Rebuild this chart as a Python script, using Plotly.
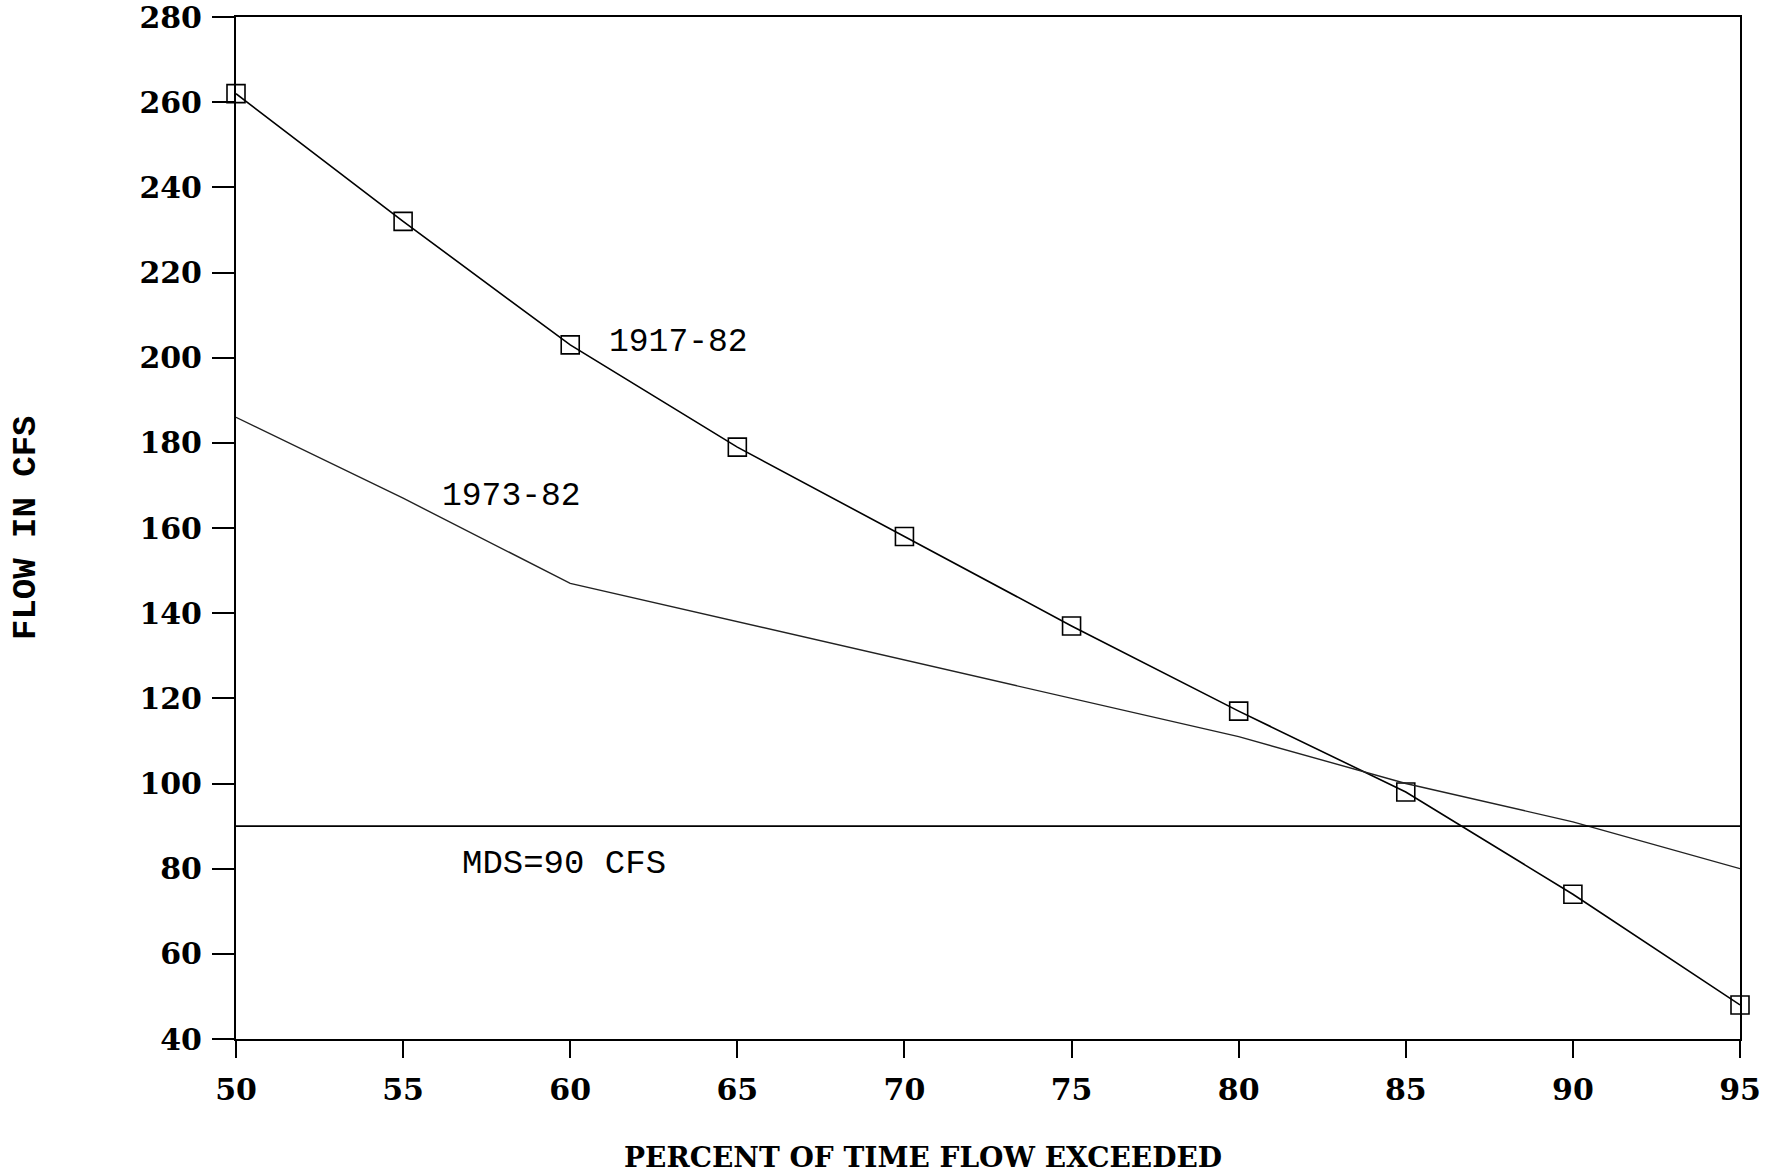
import plotly.graph_objects as go

pct = [50, 55, 60, 65, 70, 75, 80, 85, 90, 95]
flow_1917_82 = [262, 232, 203, 179, 158, 137, 117, 98, 74, 48]
flow_1973_82 = [186, 167, 147, 138, 129, 120, 111, 100, 91, 80]
mds_x = [50, 95]
mds_y = [90, 90]
x_ticks = [50, 55, 60, 65, 70, 75, 80, 85, 90, 95]
y_ticks = [40, 60, 80, 100, 120, 140, 160, 180, 200, 220, 240, 260, 280]

fig = go.Figure()
fig.add_trace(go.Scatter(x=pct, y=flow_1917_82, mode="lines+markers",
                         line=dict(color="black", width=1.6),
                         marker=dict(symbol="square-open", size=18, color="black",
                                     line=dict(width=1.6, color="black")),
                         cliponaxis=False, showlegend=False))
fig.add_trace(go.Scatter(x=pct, y=flow_1973_82, mode="lines",
                         line=dict(color="#222", width=1.4),
                         showlegend=False))
fig.add_trace(go.Scatter(x=mds_x, y=mds_y, mode="lines",
                         line=dict(color="black", width=1.6),
                         showlegend=False))

ann_font = dict(family="Liberation Mono", size=33, color="black")
fig.add_annotation(x=61.1, y=203.5, text="1917-82", showarrow=False,
                   xanchor="left", yanchor="middle", font=ann_font)
fig.add_annotation(x=56.1, y=167.3, text="1973-82", showarrow=False,
                   xanchor="left", yanchor="middle", font=ann_font)
fig.add_annotation(x=56.7, y=81.1, text="MDS=90 CFS", showarrow=False,
                   xanchor="left", yanchor="middle",
                   font=dict(family="Liberation Mono", size=34, color="black"))

fig.add_annotation(x=0, y=0.5, xref="paper", yref="paper", xshift=-210,
                   text="FLOW IN CFS", textangle=-90, showarrow=False,
                   xanchor="center", yanchor="middle",
                   font=dict(family="Liberation Mono", size=34, color="black", weight="bold"))
fig.add_annotation(x=0.457, y=0, xref="paper", yref="paper", yshift=-118,
                   text="PERCENT OF TIME FLOW EXCEEDED", showarrow=False,
                   xanchor="center", yanchor="middle",
                   font=dict(family="DejaVu Serif", size=28, color="black", weight="bold"))

tick_font = dict(family="DejaVu Serif", size=30, color="black", weight="bold")
fig.update_xaxes(range=[50, 95], tickvals=x_ticks, ticks="outside", ticklen=17,
                 tickwidth=2, tickcolor="black", showline=True, linecolor="black",
                 linewidth=2, mirror=True, showgrid=False, zeroline=False,
                 tickfont=tick_font, ticklabelstandoff=6, automargin=False,
                 ticklabeloverflow="allow")
fig.update_yaxes(range=[40, 280], tickvals=y_ticks, ticks="outside", ticklen=22,
                 tickwidth=2, tickcolor="black", showline=True, linecolor="black",
                 linewidth=2, mirror=True, showgrid=False, zeroline=False,
                 tickfont=tick_font, ticklabelstandoff=4, automargin=False,
                 ticklabeloverflow="allow")

fig.update_layout(width=1783, height=1176, plot_bgcolor="white", paper_bgcolor="white",
                  margin=dict(l=236, r=43, t=17, b=137))

fig.write_html("out.html", config={"displayModeBar": False},
               post_script="document.body.style.margin='0';")
